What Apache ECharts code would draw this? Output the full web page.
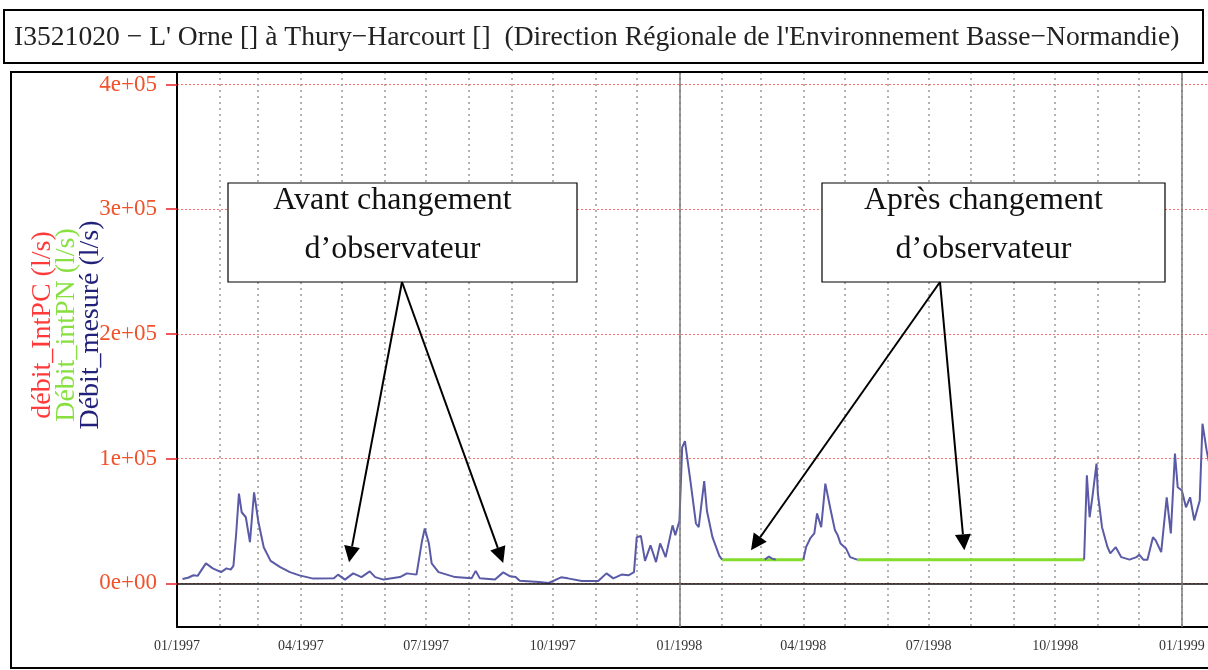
<!DOCTYPE html>
<html>
<head>
<meta charset="utf-8">
<script src="https://cdn.jsdelivr.net/npm/echarts@6/dist/echarts.min.js"></script>
<style>
  html, body { margin: 0; padding: 0; background: #fff; }
  #chart { width: 1208px; height: 670px; }
</style>
</head>
<body>
<div id="chart"></div>
<script>
// Station and axis texts
const stationTitle = 'I3521020 \u2212 L\' Orne [] \u00e0 Thury\u2212Harcourt []  (Direction R\u00e9gionale de l\'Environnement Basse\u2212Normandie)';
const axisNames = ['d\u00e9bit_IntPC (l/s)', 'D\u00e9bit_intPN (l/s)', 'D\u00e9bit_mesur\u00e9 (l/s)'];
const axisNameColors = ['#ff3a3a', '#88e040', '#22227a'];

// Y ticks (l/s)
const yTicks = [0, 100000, 200000, 300000, 400000];

// Monthly grid ticks and quarterly date labels
const monthTicks = [
  '1997-02-01', '1997-03-01', '1997-04-01', '1997-05-01', '1997-06-01', '1997-07-01',
  '1997-08-01', '1997-09-01', '1997-10-01', '1997-11-01', '1997-12-01', '1998-01-01',
  '1998-02-01', '1998-03-01', '1998-04-01', '1998-05-01', '1998-06-01', '1998-07-01',
  '1998-08-01', '1998-09-01', '1998-10-01', '1998-11-01', '1998-12-01', '1999-01-01'
];
const quarterLabels = [
  '1997-01-01', '1997-04-01', '1997-07-01', '1997-10-01',
  '1998-01-01', '1998-04-01', '1998-07-01', '1998-10-01', '1999-01-01'
];
const yearLines = ['1998-01-01', '1999-01-01'];

// Débit mesuré (l/s); null marks days without measurement
const mesureDates = [
  '1997-01-05', '1997-01-09', '1997-01-13', '1997-01-16', '1997-01-22', '1997-01-27',
  '1997-02-02', '1997-02-06', '1997-02-09', '1997-02-11', '1997-02-13', '1997-02-15',
  '1997-02-17', '1997-02-20', '1997-02-23', '1997-02-25', '1997-02-26', '1997-03-01',
  '1997-03-05', '1997-03-10', '1997-03-17', '1997-03-24', '1997-03-31', '1997-04-10',
  '1997-04-25', '1997-04-28', '1997-05-03', '1997-05-09', '1997-05-15', '1997-05-21',
  '1997-05-25', '1997-05-31', '1997-06-12', '1997-06-17', '1997-06-24', '1997-06-28',
  '1997-06-30', '1997-07-03', '1997-07-05', '1997-07-10', '1997-07-22', '1997-08-03',
  '1997-08-06', '1997-08-09', '1997-08-20', '1997-08-26', '1997-08-31', '1997-09-04',
  '1997-09-07', '1997-09-21', '1997-09-28', '1997-10-07', '1997-10-12', '1997-10-22',
  '1997-11-03', '1997-11-09', '1997-11-14', '1997-11-20', '1997-11-25', '1997-11-29',
  '1997-12-01', '1997-12-04', '1997-12-07', '1997-12-11', '1997-12-15', '1997-12-18',
  '1997-12-22', '1997-12-27', '1997-12-29', '1998-01-01', '1998-01-03', '1998-01-05',
  '1998-01-09', '1998-01-13', '1998-01-15', '1998-01-19', '1998-01-21', '1998-01-25',
  '1998-01-30', '1998-02-01', '1998-02-15',
  '1998-03-04', '1998-03-07', '1998-03-09', '1998-03-12', '1998-03-20',
  '1998-04-01', '1998-04-03', '1998-04-06', '1998-04-09', '1998-04-11', '1998-04-14',
  '1998-04-17', '1998-04-21', '1998-04-24', '1998-04-26', '1998-04-28', '1998-05-02',
  '1998-05-05', '1998-05-10', '1998-07-01',
  '1998-10-22', '1998-10-24', '1998-10-26', '1998-10-28', '1998-10-31', '1998-11-01',
  '1998-11-04', '1998-11-08', '1998-11-10', '1998-11-14', '1998-11-18', '1998-11-24',
  '1998-11-29', '1998-12-01', '1998-12-04', '1998-12-07', '1998-12-11', '1998-12-13',
  '1998-12-17', '1998-12-21', '1998-12-24', '1998-12-27', '1998-12-29', '1999-01-01',
  '1999-01-04', '1999-01-07', '1999-01-10', '1999-01-14', '1999-01-16', '1999-01-19',
  '1999-01-22'
];
const mesureValues = [
  3500, 4500, 6500, 6000, 16000, 12000,
  9000, 12000, 11000, 14000, 40000, 72000,
  57000, 53000, 33000, 60000, 73000, 50000,
  29000, 18000, 13000, 9000, 6400, 3800,
  4000, 7000, 3000, 8000, 5000, 9600,
  5000, 3000, 5000, 8000, 7000, 34000,
  44000, 32000, 16000, 9000, 5000, 4000,
  10000, 4000, 3000, 8800, 5600, 5000,
  2000, 1000, 300, 4800, 4000, 1800,
  1800, 8000, 4000, 7000, 6400, 9000,
  37000, 38000, 18000, 30500, 17000, 32000,
  21000, 46500, 38500, 50000, 109000, 114000,
  82000, 48000, 45000, 82000, 58000, 37000,
  22000, 19000, null,
  19000, 21500, 20000, 19000, null,
  19000, 29000, 36000, 40000, 56000, 45000,
  80000, 58000, 42500, 38500, 32000, 28000,
  21000, 19000, null,
  19000, 86600, 53000, 69000, 96000, 72000,
  45000, 29000, 24000, 29000, 21000, 19000,
  21000, 23000, 19000, 19000, 37000, 34500,
  25000, 69000, 40000, 104000, 77000, 74500,
  61000, 69000, 50500, 66500, 128000, 106600,
  90000
];

// Débit_intPN (l/s): filled periods
const intPNDates = ['1998-02-01', '1998-04-01', '1998-04-20', '1998-05-10', '1998-10-22'];
const intPNValues = [19000, 19000, null, 19000, 19000];

const utc = s => {
  const p = s.split('-').map(Number);
  return Date.UTC(p[0], p[1] - 1, p[2]);
};
const pairs = (dates, values) => dates.map((d, i) => [utc(d), values[i]]);
const sciLabel = v => {
  if (v === 0) return '0e+00';
  const parts = v.toExponential().split('e');
  const exp = parts[1].replace('+', '');
  return parts[0] + 'e+' + (exp.length < 2 ? '0' + exp : exp);
};
const monthLabel = v => {
  const d = new Date(v);
  return String(d.getUTCMonth() + 1).padStart(2, '0') + '/' + d.getUTCFullYear();
};

const serif = 'Liberation Serif';
const chart = echarts.init(document.getElementById('chart'), null, { renderer: 'canvas' });

const option = {
  animation: false,
  backgroundColor: '#ffffff',
  grid: { left: 177, top: 72, right: 0, bottom: 43, containLabel: false },
  xAxis: {
    // time in ms (UTC), with custom month ticks
    type: 'value',
    min: utc('1997-01-01'),
    max: utc('1999-01-20'),
    axisLine: { show: true, onZero: false, lineStyle: { color: '#000', width: 2 } },
    axisTick: { show: false, customValues: monthTicks.map(utc) },
    axisLabel: {
      customValues: quarterLabels.map(utc),
      formatter: monthLabel,
      fontFamily: serif, fontSize: 14, color: '#333', margin: 12,
      showMinLabel: true, showMaxLabel: true
    },
    splitLine: { show: true, lineStyle: { color: '#999', type: [2, 4], width: 1.5 } }
  },
  yAxis: {
    type: 'value',
    min: -35000,
    max: 410000,
    axisLine: { show: true, lineStyle: { color: '#000', width: 2 } },
    axisTick: { show: true, length: 11, customValues: yTicks, lineStyle: { color: '#e8202a', width: 1.5 } },
    axisLabel: {
      customValues: yTicks,
      formatter: sciLabel,
      fontFamily: serif, fontSize: 23, color: '#f0522c', margin: 20
    },
    splitLine: { show: true, lineStyle: { color: '#ff6f6f', type: [2, 2], width: 1 } }
  },
  series: [
    {
      name: axisNames[1],
      type: 'line',
      data: pairs(intPNDates, intPNValues),
      showSymbol: false,
      connectNulls: false,
      lineStyle: { color: '#84dc2e', width: 3 },
      itemStyle: { color: '#84dc2e' },
      markLine: {
        silent: true,
        symbol: ['none', 'none'],
        label: { show: false },
        data: [
          { yAxis: 0, lineStyle: { color: '#111', width: 1.5, type: 'solid' } }
        ].concat(yearLines.map(d => ({ xAxis: utc(d), lineStyle: { color: '#7a7a7a', width: 1.5, type: 'solid' } })))
      }
    },
    {
      name: axisNames[2],
      type: 'line',
      data: pairs(mesureDates, mesureValues),
      showSymbol: false,
      connectNulls: false,
      lineStyle: { color: '#5a5aa6', width: 2 },
      itemStyle: { color: '#5a5aa6' }
    }
  ]
};
chart.setOption(option);

// Annotation: boxes with arrows pointing at the series
const toPx = (d, v) => chart.convertToPixel({ gridIndex: 0 }, [utc(d), v]);
const annotations = [
  { box: [228, 183, 349, 99], lines: ['Avant changement', 'd\u2019observateur'],
    from: [402, 282], tips: [toPx('1997-05-06', 17000), toPx('1997-08-26', 16400)] },
  { box: [822, 183, 343, 99], lines: ['Apr\u00e8s changement', 'd\u2019observateur'],
    from: [940, 282], tips: [toPx('1998-02-22', 26500), toPx('1998-07-27', 26500)] }
];

const graphics = [
  { type: 'rect', shape: { x: 4, y: 10, width: 1199, height: 53 },
    style: { fill: '#fff', stroke: '#000', lineWidth: 2 }, z: 10 },
  { type: 'text', x: 14, y: 38, z: 11,
    style: { text: stationTitle, font: '27.6px "' + serif + '"', fill: '#222', textVerticalAlign: 'middle' } },
  { type: 'rect', shape: { x: 11, y: 72, width: 1210, height: 596 },
    style: { fill: 'none', stroke: '#000', lineWidth: 2 }, z: 10 }
];

axisNames.forEach((name, i) => {
  graphics.push({
    type: 'text', x: 43 + i * 24, y: 325, rotation: Math.PI / 2, z: 11,
    style: { text: name, font: '28px "' + serif + '"', fill: axisNameColors[i],
             textAlign: 'center', textVerticalAlign: 'middle' }
  });
});

annotations.forEach(a => {
  const [bx, by, bw, bh] = a.box;
  graphics.push({ type: 'rect', shape: { x: bx, y: by, width: bw, height: bh },
    style: { fill: '#fff', stroke: '#000', lineWidth: 1.2 }, z: 20 });
  a.lines.forEach((t, k) => {
    graphics.push({ type: 'text', x: bx + bw / 2 - 10, y: by + 18 + k * 49, z: 21,
      style: { text: t, font: '32px "' + serif + '"', fill: '#111',
               textAlign: 'center', textVerticalAlign: 'middle' } });
  });
  a.tips.forEach(tip => {
    const [fx, fy] = a.from;
    const dx = tip[0] - fx, dy = tip[1] - fy;
    const len = Math.sqrt(dx * dx + dy * dy);
    const ux = dx / len, uy = dy / len;
    const headL = 16, headW = 8;
    const bxp = tip[0] - ux * headL, byp = tip[1] - uy * headL;
    graphics.push({ type: 'line', shape: { x1: fx, y1: fy, x2: bxp, y2: byp },
      style: { stroke: '#000', lineWidth: 2 }, z: 20 });
    graphics.push({ type: 'polygon', z: 20,
      shape: { points: [[tip[0], tip[1]], [bxp - uy * headW, byp + ux * headW], [bxp + uy * headW, byp - ux * headW]] },
      style: { fill: '#000' } });
  });
});

chart.setOption({ graphic: graphics });
</script>
</body>
</html>
